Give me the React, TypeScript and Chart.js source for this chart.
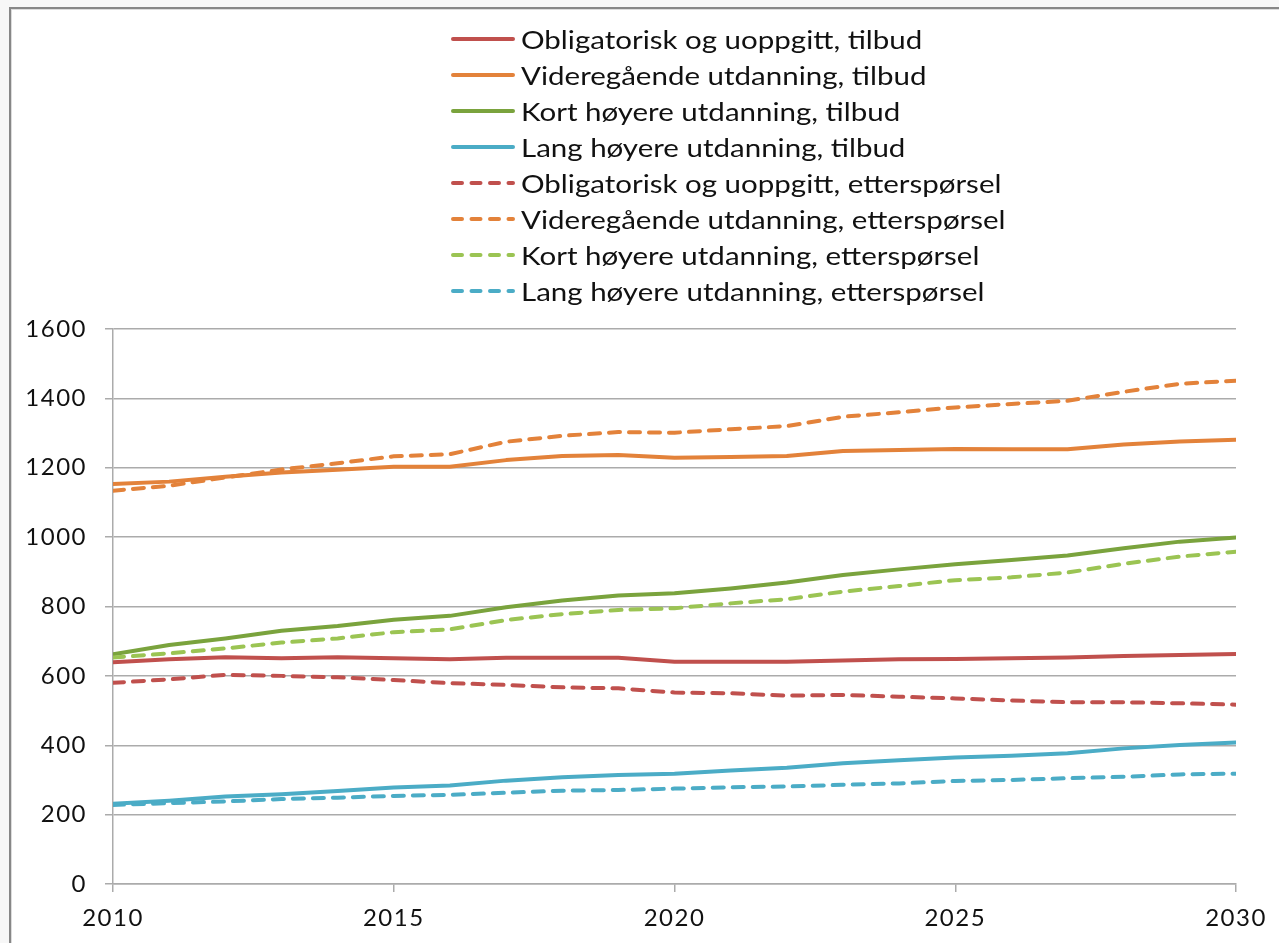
import React, { useEffect, useRef } from "react";
import { Chart, registerables } from "chart.js";

Chart.register(...registerables);

const years = [2010, 2011, 2012, 2013, 2014, 2015, 2016, 2017, 2018, 2019, 2020, 2021, 2022, 2023, 2024, 2025, 2026, 2027, 2028, 2029, 2030];

const obligTilbud = [639, 648, 654, 651, 654, 651, 648, 652, 652, 652, 641, 641, 641, 644, 648, 649, 651, 653, 657, 660, 663];
const videreTilbud = [1153, 1160, 1174, 1186, 1194, 1203, 1203, 1222, 1234, 1237, 1229, 1231, 1234, 1248, 1251, 1254, 1253, 1253, 1267, 1276, 1281];
const kortTilbud = [662, 689, 708, 730, 744, 762, 773, 798, 817, 832, 838, 852, 869, 891, 907, 922, 934, 947, 968, 987, 999];
const langTilbud = [231, 240, 252, 259, 268, 278, 284, 298, 308, 314, 318, 327, 335, 348, 357, 365, 370, 377, 391, 401, 408];
const obligEtter = [580, 590, 603, 600, 596, 588, 579, 574, 567, 564, 552, 550, 543, 545, 540, 535, 529, 524, 524, 521, 517];
const videreEtter = [1134, 1148, 1172, 1195, 1213, 1233, 1239, 1275, 1292, 1303, 1301, 1311, 1320, 1347, 1360, 1374, 1384, 1393, 1419, 1442, 1451];
const kortEtter = [653, 665, 679, 696, 708, 726, 734, 761, 778, 790, 795, 809, 821, 843, 859, 876, 884, 898, 923, 944, 958];
const langEtter = [228, 233, 238, 245, 249, 254, 257, 263, 269, 271, 275, 279, 281, 286, 290, 297, 300, 305, 309, 316, 318];

const seriesNames = [
  "Obligatorisk og uoppgitt, tilbud",
  "Videregående utdanning, tilbud",
  "Kort høyere utdanning, tilbud",
  "Lang høyere utdanning, tilbud",
  "Obligatorisk og uoppgitt, etterspørsel",
  "Videregående utdanning, etterspørsel",
  "Kort høyere utdanning, etterspørsel",
  "Lang høyere utdanning, etterspørsel",
];
const seriesValues = [obligTilbud, videreTilbud, kortTilbud, langTilbud, obligEtter, videreEtter, kortEtter, langEtter];
const seriesColors = ["#C0504D", "#E3823A", "#7AA33D", "#4BACC6", "#C0504D", "#E3823A", "#9BC453", "#4BACC6"];
const seriesDashed = [false, false, false, false, true, true, true, true];

const yMin = 0;
const yMax = 1600;
const yStep = 200;
const xMin = 2010;
const xMax = 2030;
const xStep = 5;

const FONT = "Lato, 'Open Sans', sans-serif";

const spacingPlugin = {
  id: "tickSpacing",
  beforeInit(chart: any) {
    chart.ctx.letterSpacing = "1.5px";
  },
  beforeUpdate(chart: any) {
    chart.ctx.letterSpacing = "1.5px";
  },
  beforeDraw(chart: any) {
    chart.ctx.letterSpacing = "1.5px";
  },
};

export default function App() {
  const canvasRef = useRef<HTMLCanvasElement | null>(null);

  useEffect(() => {
    const canvas = canvasRef.current;
    if (!canvas) return;
    const datasets = seriesNames.map((name, i) => ({
      label: name,
      data: years.map((yr, j) => ({ x: yr, y: seriesValues[i][j] })),
      borderColor: seriesColors[i],
      backgroundColor: seriesColors[i],
      borderWidth: 4,
      borderDash: seriesDashed[i] ? [11, 9] : [],
      borderCapStyle: "round" as const,
      borderJoinStyle: "round" as const,
      pointRadius: 0,
      pointHoverRadius: 0,
      tension: 0,
      fill: false,
      order: 20 - i,
    }));
    const chart = new Chart(canvas, {
      type: "line",
      data: { datasets },
      plugins: [spacingPlugin],
      options: {
        animation: false,
        responsive: false,
        layout: { padding: { left: 0, top: 329, right: 43, bottom: 0 } },
        plugins: { legend: { display: false }, tooltip: { enabled: false } },
        scales: {
          x: {
            type: "linear",
            min: xMin,
            max: xMax,
            ticks: {
              stepSize: xStep,
              padding: 12,
              color: "#111",
              font: { family: FONT, size: 24 },
              callback: (v: any) => String(v),
              maxRotation: 0,
            },
            grid: { drawOnChartArea: false, drawTicks: true, tickLength: 8, color: "#ababab", lineWidth: 1.5 },
            border: { display: true, color: "#ababab", width: 1.5 },
            afterFit: (s: any) => {
              s.height = 59;
            },
          },
          y: {
            min: yMin,
            max: yMax,
            ticks: {
              stepSize: yStep,
              padding: 18,
              color: "#111",
              font: { family: FONT, size: 24 },
              callback: (v: any) => String(v),
            },
            grid: { drawTicks: true, tickLength: 8, color: "#ababab", lineWidth: 1.5 },
            border: { display: true, color: "#ababab", width: 1.5 },
            afterFit: (s: any) => {
              s.width = 113;
            },
          },
        },
      },
    });
    return () => chart.destroy();
  }, []);

  return (
    <div style={{ position: "fixed", left: 0, top: 0, width: 1279, height: 943, background: "#f7f7f7", overflow: "hidden" }}>
      <div
        style={{
          position: "absolute",
          left: 9,
          top: 7,
          width: 1400,
          height: 1100,
          background: "#fff",
          borderLeft: "2px solid #878787",
          borderTop: "2px solid #878787",
          boxShadow: "inset 1px 1px 0 #dcdcdc",
        }}
      />
      <canvas ref={canvasRef} width={1279} height={943} style={{ position: "absolute", left: 0, top: 0, width: 1279, height: 943 }} />
      <div style={{ position: "absolute", left: 450, top: 21 }}>
        {seriesNames.map((name, i) => (
          <div key={name} style={{ display: "flex", alignItems: "center", height: 36 }}>
            <svg width={66} height={10} style={{ display: "block", flex: "none" }}>
              <line
                x1={3}
                x2={63}
                y1={5}
                y2={5}
                stroke={seriesColors[i]}
                strokeWidth={4}
                strokeLinecap="round"
                strokeDasharray={seriesDashed[i] ? "9 9.5" : undefined}
              />
            </svg>
            <span
              style={{
                marginLeft: 5,
                fontFamily: FONT,
                fontSize: 25,
                color: "#111",
                lineHeight: "36px",
                whiteSpace: "nowrap",
                display: "inline-block",
                transform: "scaleX(1.18)",
                transformOrigin: "left center",
              }}
            >
              {name}
            </span>
          </div>
        ))}
      </div>
    </div>
  );
}
